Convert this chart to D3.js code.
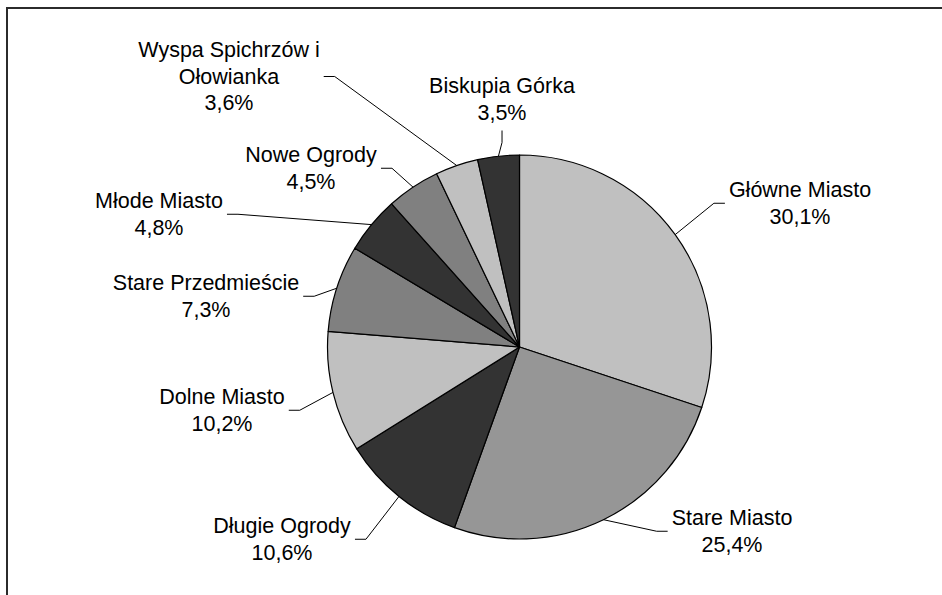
<!DOCTYPE html>
<html>
<head>
<meta charset="utf-8">
<script src="https://cdn.jsdelivr.net/npm/d3@7"></script>
<style>
  html, body { margin: 0; padding: 0; background: #fff; }
  svg { display: block; }
</style>
</head>
<body>
<div id="chart"></div>
<script>
// Districts, clockwise from 12 o'clock
const districts = ['Główne Miasto', 'Stare Miasto', 'Długie Ogrody', 'Dolne Miasto',
  'Stare Przedmieście', 'Młode Miasto', 'Nowe Ogrody', 'Wyspa Spichrzów i Ołowianka', 'Biskupia Górka']
const shares = [30.1, 25.4, 10.6, 10.2, 7.3, 4.8, 4.5, 3.6, 3.5]
const fills = ['#c0c0c0', '#969696', '#333333', '#c0c0c0', '#808080', '#333333', '#808080', '#c0c0c0', '#333333']

// label text lines (the long name wraps like in the original)
const labelLines = [
  ['Główne Miasto'], ['Stare Miasto'], ['Długie Ogrody'], ['Dolne Miasto'],
  ['Stare Przedmieście'], ['Młode Miasto'], ['Nowe Ogrody'], ['Wyspa Spichrzów i', 'Ołowianka'], ['Biskupia Górka']
]

// label placement: centre x, first baseline, side of the box the leader leaves from
const labelX = [800, 732, 282, 222, 206, 159, 311, 229, 502]
const labelY = [197, 525, 533, 404, 290, 208, 162, 57, 93]
const leaderSide = ['left', 'left', 'right', 'right', 'right', 'right', 'right', 'right', 'bottom']

const width = 942
const height = 595
const cx = 519.5
const cy = 347
const radius = 192
const lineH = 26.5

const svg = d3.select('#chart').append('svg')
  .attr('width', width)
  .attr('height', height)

// frame (only top and left are visible in the crop)
svg.append('path')
  .attr('d', 'M7,' + height + 'V8H' + width)
  .attr('fill', 'none')
  .attr('stroke', '#2b2b2b')
  .attr('stroke-width', 2)

const pie = d3.pie().sort(null).value((d) => d)
const arcs = pie(shares)
const arc = d3.arc().innerRadius(0).outerRadius(radius)

const g = svg.append('g').attr('transform', 'translate(' + cx + ',' + cy + ')')

g.selectAll('path.slice')
  .data(arcs)
  .enter()
  .append('path')
  .attr('class', 'slice')
  .attr('d', arc)
  .attr('fill', (d, i) => fills[i])
  .attr('stroke', '#000')
  .attr('stroke-width', 1.2)
  .attr('stroke-linejoin', 'round')

// labels
const labels = svg.append('g')
  .selectAll('text')
  .data(arcs)
  .enter()
  .append('text')
  .attr('text-anchor', 'middle')
  .style('font-family', 'Arial, "Liberation Sans", sans-serif')
  .style('font-size', '21.5px')
  .attr('fill', '#000')

labels.each(function (d, i) {
  const t = d3.select(this)
  const lines = labelLines[i].concat([d3.format('.1f')(d.data).replace('.', ',') + '%'])
  lines.forEach((s, k) => {
    t.append('tspan')
      .attr('x', labelX[i])
      .attr('y', labelY[i] + k * lineH)
      .text(s)
  })
})

// leader lines: from the label box, short straight piece, then to the slice's mid-angle on the rim
const rim = d3.arc().innerRadius(radius).outerRadius(radius)
const leaders = svg.append('g')
  .attr('fill', 'none')
  .attr('stroke', '#000')
  .attr('stroke-width', 1)

labels.each(function (d, i) {
  const b = this.getBBox()
  const p = rim.centroid(d)
  const ex = cx + p[0]
  const ey = cy + p[1]
  let pts
  if (leaderSide[i] === 'left') {
    const y = b.y + b.height / 2
    pts = [[b.x - 4, y], [b.x - 15, y], [ex, ey]]
  } else if (leaderSide[i] === 'right') {
    const y = b.y + b.height / 2
    pts = [[b.x + b.width + 4, y], [b.x + b.width + 15, y], [ex, ey]]
  } else {
    const x = b.x + b.width / 2
    pts = [[x, b.y + b.height + 6], [x, b.y + b.height + 18], [ex, ey]]
  }
  leaders.append('path').attr('d', d3.line()(pts))
})
</script>
</body>
</html>
